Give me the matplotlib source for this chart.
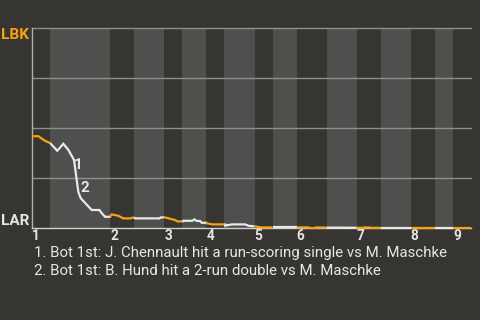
import numpy as np
import matplotlib
matplotlib.use("Agg")
import matplotlib.pyplot as plt

# ---- data ----
plays_per_half = [3, 10, 4, 5, 3, 4, 3, 5, 3, 4, 5, 5, 4, 5, 4, 3, 3]
inning_labels = ["1", "2", "3", "4", "5", "6", "7", "8", "9"]
team_top = "LBK"
team_bottom = "LAR"

# win-probability line (x = play index, y = LBK win %)
wp_x = [0.00, 1.05, 2.16, 3.00, 4.21, 5.21, 6.04, 6.99, 7.70, 8.10, 9.93, 11.20,
        11.60, 12.15, 12.98, 13.26, 14.36, 15.19, 16.31, 16.97, 17.14, 21.18,
        21.46, 22.13, 22.96, 23.79, 24.18, 25.07, 25.12, 26.62, 27.00, 27.40,
        27.95, 28.24, 29.07, 29.12, 30.07, 32.11, 32.12, 33.23, 35.44, 35.99,
        37.10, 38.10, 44.09, 45.92, 46.26, 47.09, 47.25, 48.92, 55.07, 55.24,
        56.07, 56.24, 73.00]
wp_y = [45.9, 45.9, 43.6, 42.5, 38.6, 42.1, 39.1, 34.0, 18.1, 14.9, 9.0, 9.0,
        7.4, 5.6, 5.6, 6.8, 6.1, 4.8, 4.8, 5.3, 4.8, 4.8,
        5.3, 5.3, 4.6, 4.0, 3.3, 3.3, 3.6, 3.6, 4.3, 3.5,
        3.5, 2.6, 2.6, 2.3, 1.8, 1.8, 1.2, 1.8, 1.8, 1.1,
        0.8, 0.3, 0.3, 0.3, 0.0, 0.0, 0.3, 0.2, 0.1, 0.3,
        0.3, 0.1, 0.1]

event_x = [6.99, 7.70]
event_labels = ["1", "2"]
event_texts = [
    "1. Bot 1st: J. Chennault hit a run-scoring single vs M. Maschke",
    "2. Bot 1st: B. Hund hit a 2-run double vs M. Maschke",
]

# ---- style ----
BG = "#373531"
LIGHT = "#4f4f4d"
GRID = "#8e8e8b"
ORANGE = "#f6a312"
WHITE = "#e9e9e9"
TXT = "#e6e6e6"
FONT = ["Roboto", "DejaVu Sans"]

plt.rcParams["font.family"] = FONT

fig = plt.figure(figsize=(4.8, 3.2), dpi=100, facecolor=BG)
ax = fig.add_axes([32 / 480, 92 / 320, 439 / 480, 200 / 320])
ax.set_facecolor(BG)

bounds = np.concatenate([[0], np.cumsum(plays_per_half)])
xmax = bounds[-1]
ax.set_xlim(0, xmax)
ax.set_ylim(0, 100)

# stripes for bottom halves
for i in range(len(plays_per_half)):
    if i % 2 == 1:
        ax.axvspan(bounds[i], bounds[i + 1], color=LIGHT, lw=0, zorder=0)

for g in [25, 50, 75, 100]:
    ax.axhline(g, color=GRID, lw=1.0, zorder=1, clip_on=False)

# line segments coloured by half inning
wx = np.array(wp_x)
wy = np.array(wp_y)
for i in range(len(plays_per_half)):
    a, b = bounds[i], bounds[i + 1]
    inside = (wx > a) & (wx < b)
    xs = np.concatenate([[a], wx[inside], [b]])
    ys = np.interp(xs, wx, wy)
    ax.plot(xs, ys, color=ORANGE if i % 2 == 0 else WHITE, lw=1.6,
            solid_capstyle="butt", solid_joinstyle="miter", zorder=4, clip_on=False)

# event markers
for ex, lab, off in zip(event_x, event_labels, [(2.6, -3.4), (4.4, 2.6)]):
    ey = np.interp(ex, wx, wy)
    ax.annotate(lab, (ex, ey), xytext=off, textcoords="offset points",
                ha="center", va="center", color=TXT, fontsize=11,
                fontweight="bold", zorder=5)

# spines
for s in ["top", "right"]:
    ax.spines[s].set_visible(False)
ax.spines["left"].set_color("#b0b0ae")
ax.spines["bottom"].set_color("#cfcfcf")
ax.spines["left"].set_linewidth(1.0)
ax.spines["bottom"].set_linewidth(1.0)

inning_starts = bounds[0::2][:len(inning_labels)]
ax.set_xticks(inning_starts)
ax.set_xticklabels(inning_labels, ha="left", fontweight="bold", fontsize=9.8,
                   color=TXT)
ax.tick_params(axis="x", length=0, pad=1)
ax.set_yticks([])

ax.text(-0.007, 1.0, team_top, transform=ax.transAxes, ha="right", va="top",
        color=ORANGE, fontweight="bold", fontsize=11)
ax.text(-0.007, 0.0, team_bottom, transform=ax.transAxes, ha="right", va="bottom",
        color=TXT, fontweight="bold", fontsize=11)

for k, t in enumerate(event_texts):
    fig.text(34 / 480, 1 - (257 + 18 * k) / 320, t, ha="left", va="baseline",
             color=TXT, fontsize=10.8)

fig.savefig("out.png", dpi=100, facecolor=BG)
